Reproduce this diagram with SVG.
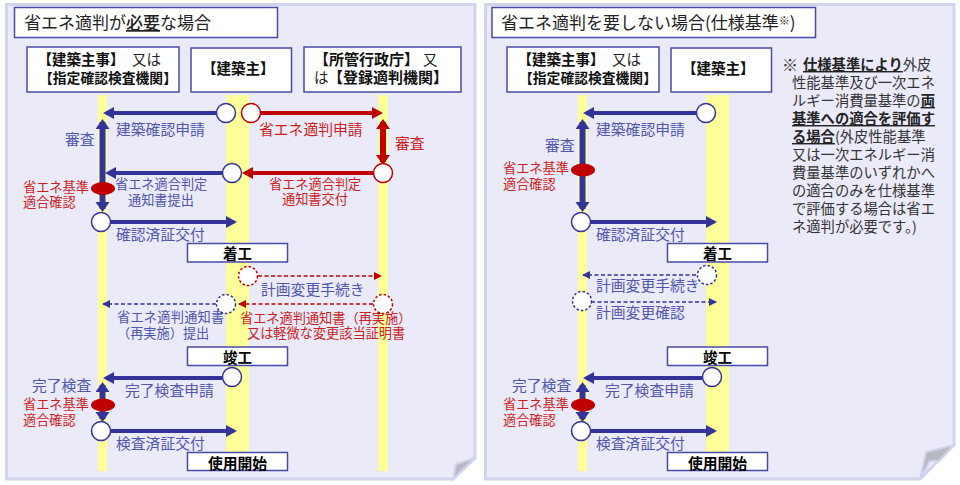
<svg xmlns="http://www.w3.org/2000/svg" width="960" height="485" viewBox="0 0 960 485">
<style>
text{font-family:"Noto Sans CJK JP","Noto Sans",sans-serif;white-space:pre}
.panel{fill:#EAEAF8;stroke:#D2D4EE;stroke-width:3}
.fold{fill:#B9B9C6;stroke:#D2D4EE;stroke-width:2}
.band{fill:#FFFF99}
.box{fill:#fff;stroke:#4A4AA8;stroke-width:1.5}
.h{font-size:14.5px;font-weight:700;fill:#111}
.hn{font-size:14.5px;fill:#222}
.ms{font-size:14.5px;font-weight:700;fill:#000;text-anchor:middle}
.t{font-size:17px;fill:#222}
.b{font-size:14.8px;fill:#5055AE}
.r{font-size:14.8px;fill:#CC1F1F}
.bs{font-size:13.2px;fill:#5055AE}
.rs{font-size:13.2px;fill:#CC1F1F}
.n{font-size:14.3px;fill:#333}
.nb{font-size:14.3px;font-weight:700;fill:#222;text-decoration:underline}
.c{fill:#fff;stroke:#333399;stroke-width:1.5}
.cr{fill:#fff;stroke:#C00000;stroke-width:1.5}
.d{stroke-dasharray:2.5 2}
.el{fill:#C00000}
.lb{stroke:#333399;stroke-width:4;fill:none;marker-end:url(#ab)}
.lr{stroke:#C00000;stroke-width:4;fill:none;marker-end:url(#ar)}
.vb{stroke:#333399;stroke-width:6;fill:none;marker-start:url(#vb);marker-end:url(#vb)}
.vr{stroke:#C00000;stroke-width:6;fill:none;marker-start:url(#vr);marker-end:url(#vr)}
.db{stroke:#333399;stroke-width:1.6;stroke-dasharray:4 2.5;fill:none;marker-end:url(#sb)}
.dr{stroke:#C00000;stroke-width:1.6;stroke-dasharray:4 2.5;fill:none;marker-end:url(#sr)}
</style>
<defs>
<marker id="ab" markerUnits="userSpaceOnUse" markerWidth="14" markerHeight="14" refX="8" refY="6" orient="auto"><path d="M0 0L11 6L0 12Z" fill="#333399"/></marker>
<marker id="ar" markerUnits="userSpaceOnUse" markerWidth="14" markerHeight="14" refX="8" refY="6" orient="auto"><path d="M0 0L11 6L0 12Z" fill="#C00000"/></marker>
<marker id="vb" markerUnits="userSpaceOnUse" markerWidth="16" markerHeight="16" refX="7" refY="7" orient="auto-start-reverse"><path d="M0 0L10 7L0 14Z" fill="#333399"/></marker>
<marker id="vr" markerUnits="userSpaceOnUse" markerWidth="16" markerHeight="16" refX="7" refY="7" orient="auto-start-reverse"><path d="M0 0L10 7L0 14Z" fill="#C00000"/></marker>
<marker id="sb" markerUnits="userSpaceOnUse" markerWidth="10" markerHeight="10" refX="7" refY="4" orient="auto"><path d="M0 0L8 4L0 8Z" fill="#333399"/></marker>
<marker id="sr" markerUnits="userSpaceOnUse" markerWidth="10" markerHeight="10" refX="7" refY="4" orient="auto"><path d="M0 0L8 4L0 8Z" fill="#C00000"/></marker>
</defs>
<rect width="960" height="485" fill="#fff"/>

<g id="panel-left">
<path class="panel" d="M6.500 4.500H475V458L453 479H6.500Z"/>
<path class="fold" d="M475 458L456 464L453 479Z"/>
<rect class="band" x="98" y="95" width="9" height="376"/>
<rect class="band" x="226" y="95" width="23" height="376"/>
<rect class="band" x="378" y="95" width="10" height="376"/>
</g>
<g id="panel-right">
<path class="panel" d="M485.500 4.500H954V445L920 479H485.500Z"/>
<path class="fold" d="M954 445L926 452L920 479L930 461H939Z"/>
<rect class="band" x="578" y="95" width="9" height="376"/>
<rect class="band" x="706" y="95" width="23" height="376"/>
</g>

<g id="connectors-left">
<path class="lb" d="M216 113H106"/>
<path class="lr" d="M261 113H380"/>
<path class="vb" d="M102.500 122V209"/>
<path class="vr" d="M383 122V162"/>
<path class="lr" d="M373 173H245"/>
<path class="lb" d="M222 173H108"/>
<path class="lb" d="M111 222H234"/>
<path class="dr" d="M258 276H381"/>
<path class="dr" d="M373 304H239"/>
<path class="db" d="M216 304H103"/>
<path class="lb" d="M222 378H106"/>
<path class="vb" d="M102.500 385V419"/>
<path class="lb" d="M111 431H234"/>
<text class="b" x="116" y="135">建築確認申請</text>
<text class="r" x="259" y="135">省エネ適判申請</text>
<text class="b" x="65" y="145">審査</text>
<text class="r" x="395" y="149">審査</text>
<text class="bs" x="115" y="189">省エネ適合判定</text>
<text class="bs" x="128" y="205">通知書提出</text>
<text class="rs" x="269" y="189">省エネ適合判定</text>
<text class="rs" x="282" y="204">通知書交付</text>
<text class="rs" x="23" y="192">省エネ基準</text>
<text class="rs" x="23" y="207">適合確認</text>
<text class="b" x="116" y="240">確認済証交付</text>
<text class="b" x="261" y="295">計画変更手続き</text>
<text class="bs" x="117" y="322" style="letter-spacing:.25px">省エネ適判通知書</text>
<text class="bs" x="117" y="338">（再実施）提出</text>
<text class="rs" x="240" y="323">省エネ適判通知書（再実施）</text>
<text class="rs" x="247" y="338">又は軽微な変更該当証明書</text>
<text class="b" x="32" y="391">完了検査</text>
<text class="b" x="125" y="396">完了検査申請</text>
<text class="rs" x="23" y="409">省エネ基準</text>
<text class="rs" x="23" y="425">適合確認</text>
<text class="b" x="116" y="449">検査済証交付</text>
</g>

<g id="connectors-right">
<path class="lb" d="M696 113H586"/>
<path class="vb" d="M582.500 122V209"/>
<path class="lb" d="M591 222H714"/>
<path class="db" d="M696 275H583"/>
<path class="db" d="M591 302H716"/>
<path class="lb" d="M702 378H586"/>
<path class="vb" d="M582.500 385V419"/>
<path class="lb" d="M591 431H714"/>
<text class="b" x="596" y="135">建築確認申請</text>
<text class="b" x="545" y="151">審査</text>
<text class="rs" x="503" y="173">省エネ基準</text>
<text class="rs" x="503" y="189">適合確認</text>
<text class="b" x="596" y="240">確認済証交付</text>
<text class="b" x="596" y="291">計画変更手続き</text>
<text class="b" x="596" y="318">計画変更確認</text>
<text class="b" x="512" y="391">完了検査</text>
<text class="b" x="605" y="396">完了検査申請</text>
<text class="rs" x="503" y="409">省エネ基準</text>
<text class="rs" x="503" y="425">適合確認</text>
<text class="b" x="596" y="449">検査済証交付</text>
</g>

<g id="title-left"><rect class="box" x="14.500" y="7.500" width="263" height="30"/><text class="t" x="24" y="29">省エネ適判が<tspan text-decoration="underline" font-weight="500">必要</tspan>な場合</text></g>
<g id="title-right"><rect class="box" x="492" y="7.500" width="323.500" height="30"/><text class="t" x="501" y="29">省エネ適判を要しない場合(仕様基準<tspan font-size="11" dy="-4">※</tspan><tspan dy="4">)</tspan></text></g>

<g id="node-kenchiku-shuji-left"><rect class="box" x="27" y="47" width="152" height="45"/><text class="h" x="37.500" y="65">【建築主事】</text><text class="hn" x="132" y="65">又は</text><text class="h" x="39" y="83" style="font-size:13.8px">【指定確認検査機関】</text></g>
<g id="node-kenchikunushi-left"><rect class="box" x="191" y="48" width="100.500" height="44"/><text class="h" x="202" y="74">【建築主】</text></g>
<g id="node-shokan-left"><rect class="box" x="304" y="47" width="157" height="45"/><text class="h" x="314" y="65" style="font-size:15px">【所管行政庁】</text><text class="hn" x="423" y="65">又</text><text class="hn" x="314" y="83">は</text><text class="h" x="328" y="83" style="font-size:15px">【登録適判機関】</text></g>
<g id="node-chakko-left"><rect class="box" x="187.500" y="243.500" width="100" height="18.500"/><text class="ms" x="237.500" y="259">着工</text></g>
<g id="node-shunko-left"><rect class="box" x="187.500" y="347" width="100" height="18.500"/><text class="ms" x="237.500" y="363">竣工</text></g>
<g id="node-shiyo-left"><rect class="box" x="187.500" y="452.500" width="100" height="18"/><text class="ms" x="237.500" y="469" style="font-size:14.8px">使用開始</text></g>

<g id="node-c1"><circle class="c" cx="226" cy="113" r="9.500"/></g>
<g id="node-c2"><circle class="cr" cx="251" cy="113" r="9.500"/></g>
<g id="node-c3"><circle class="cr" cx="383" cy="173" r="9.500"/></g>
<g id="node-c4"><circle class="c" cx="232" cy="173" r="9.500"/></g>
<g id="node-e1"><ellipse class="el" cx="103" cy="188.500" rx="12" ry="6.500"/></g>
<g id="node-c5"><circle class="c" cx="101" cy="222" r="9.500"/></g>
<g id="node-c6"><circle class="cr d" cx="248" cy="276" r="9.500"/></g>
<g id="node-c7"><circle class="cr d" cx="383" cy="304" r="9.500"/></g>
<g id="node-c8"><circle class="c d" cx="226" cy="304" r="9.500"/></g>
<g id="node-c9"><circle class="c" cx="232" cy="377" r="9.500"/></g>
<g id="node-e2"><ellipse class="el" cx="103" cy="405" rx="12" ry="6.500"/></g>
<g id="node-c10"><circle class="c" cx="101" cy="431" r="9.500"/></g>

<g id="node-kenchiku-shuji-right"><rect class="box" x="507" y="47" width="152" height="45"/><text class="h" x="517.500" y="65">【建築主事】</text><text class="hn" x="612" y="65">又は</text><text class="h" x="519" y="83" style="font-size:13.8px">【指定確認検査機関】</text></g>
<g id="node-kenchikunushi-right"><rect class="box" x="671" y="48" width="100.500" height="44"/><text class="h" x="682" y="74">【建築主】</text></g>
<g id="node-chakko-right"><rect class="box" x="667.500" y="243.500" width="100" height="18.500"/><text class="ms" x="717.500" y="259">着工</text></g>
<g id="node-shunko-right"><rect class="box" x="667.500" y="347" width="100" height="18.500"/><text class="ms" x="717.500" y="363">竣工</text></g>
<g id="node-shiyo-right"><rect class="box" x="667.500" y="452.500" width="100" height="18"/><text class="ms" x="717.500" y="469" style="font-size:14.8px">使用開始</text></g>

<g id="node-r1"><circle class="c" cx="706" cy="113" r="9.500"/></g>
<g id="node-r2"><ellipse class="el" cx="583" cy="170" rx="12" ry="6.500"/></g>
<g id="node-r3"><circle class="c" cx="581" cy="222" r="9.500"/></g>
<g id="node-r4"><circle class="c d" cx="707" cy="275" r="9.500"/></g>
<g id="node-r5"><circle class="c d" cx="582" cy="301" r="9.500"/></g>
<g id="node-r6"><circle class="c" cx="712" cy="377" r="9.500"/></g>
<g id="node-r7"><ellipse class="el" cx="583" cy="405" rx="12" ry="6.500"/></g>
<g id="node-r8"><circle class="c" cx="581" cy="431" r="9.500"/></g>

<g id="note">
<text class="n" x="782" y="71" style="font-size:16px">※</text>
<text class="n" x="803" y="70"><tspan class="nb">仕様基準により</tspan>外皮</text>
<text class="n" x="792" y="88">性能基準及び一次エネ</text>
<text class="n" x="792" y="106">ルギー消費量基準の<tspan class="nb">両</tspan></text>
<text class="n" x="792" y="124"><tspan class="nb">基準への適合を評価す</tspan></text>
<text class="n" x="792" y="142"><tspan class="nb">る場合</tspan>(外皮性能基準</text>
<text class="n" x="792" y="160">又は一次エネルギー消</text>
<text class="n" x="792" y="178">費量基準のいずれかへ</text>
<text class="n" x="792" y="196">の適合のみを仕様基準</text>
<text class="n" x="792" y="214">で評価する場合は省エ</text>
<text class="n" x="792" y="232">ネ適判が必要です。)</text>
</g>
</svg>
